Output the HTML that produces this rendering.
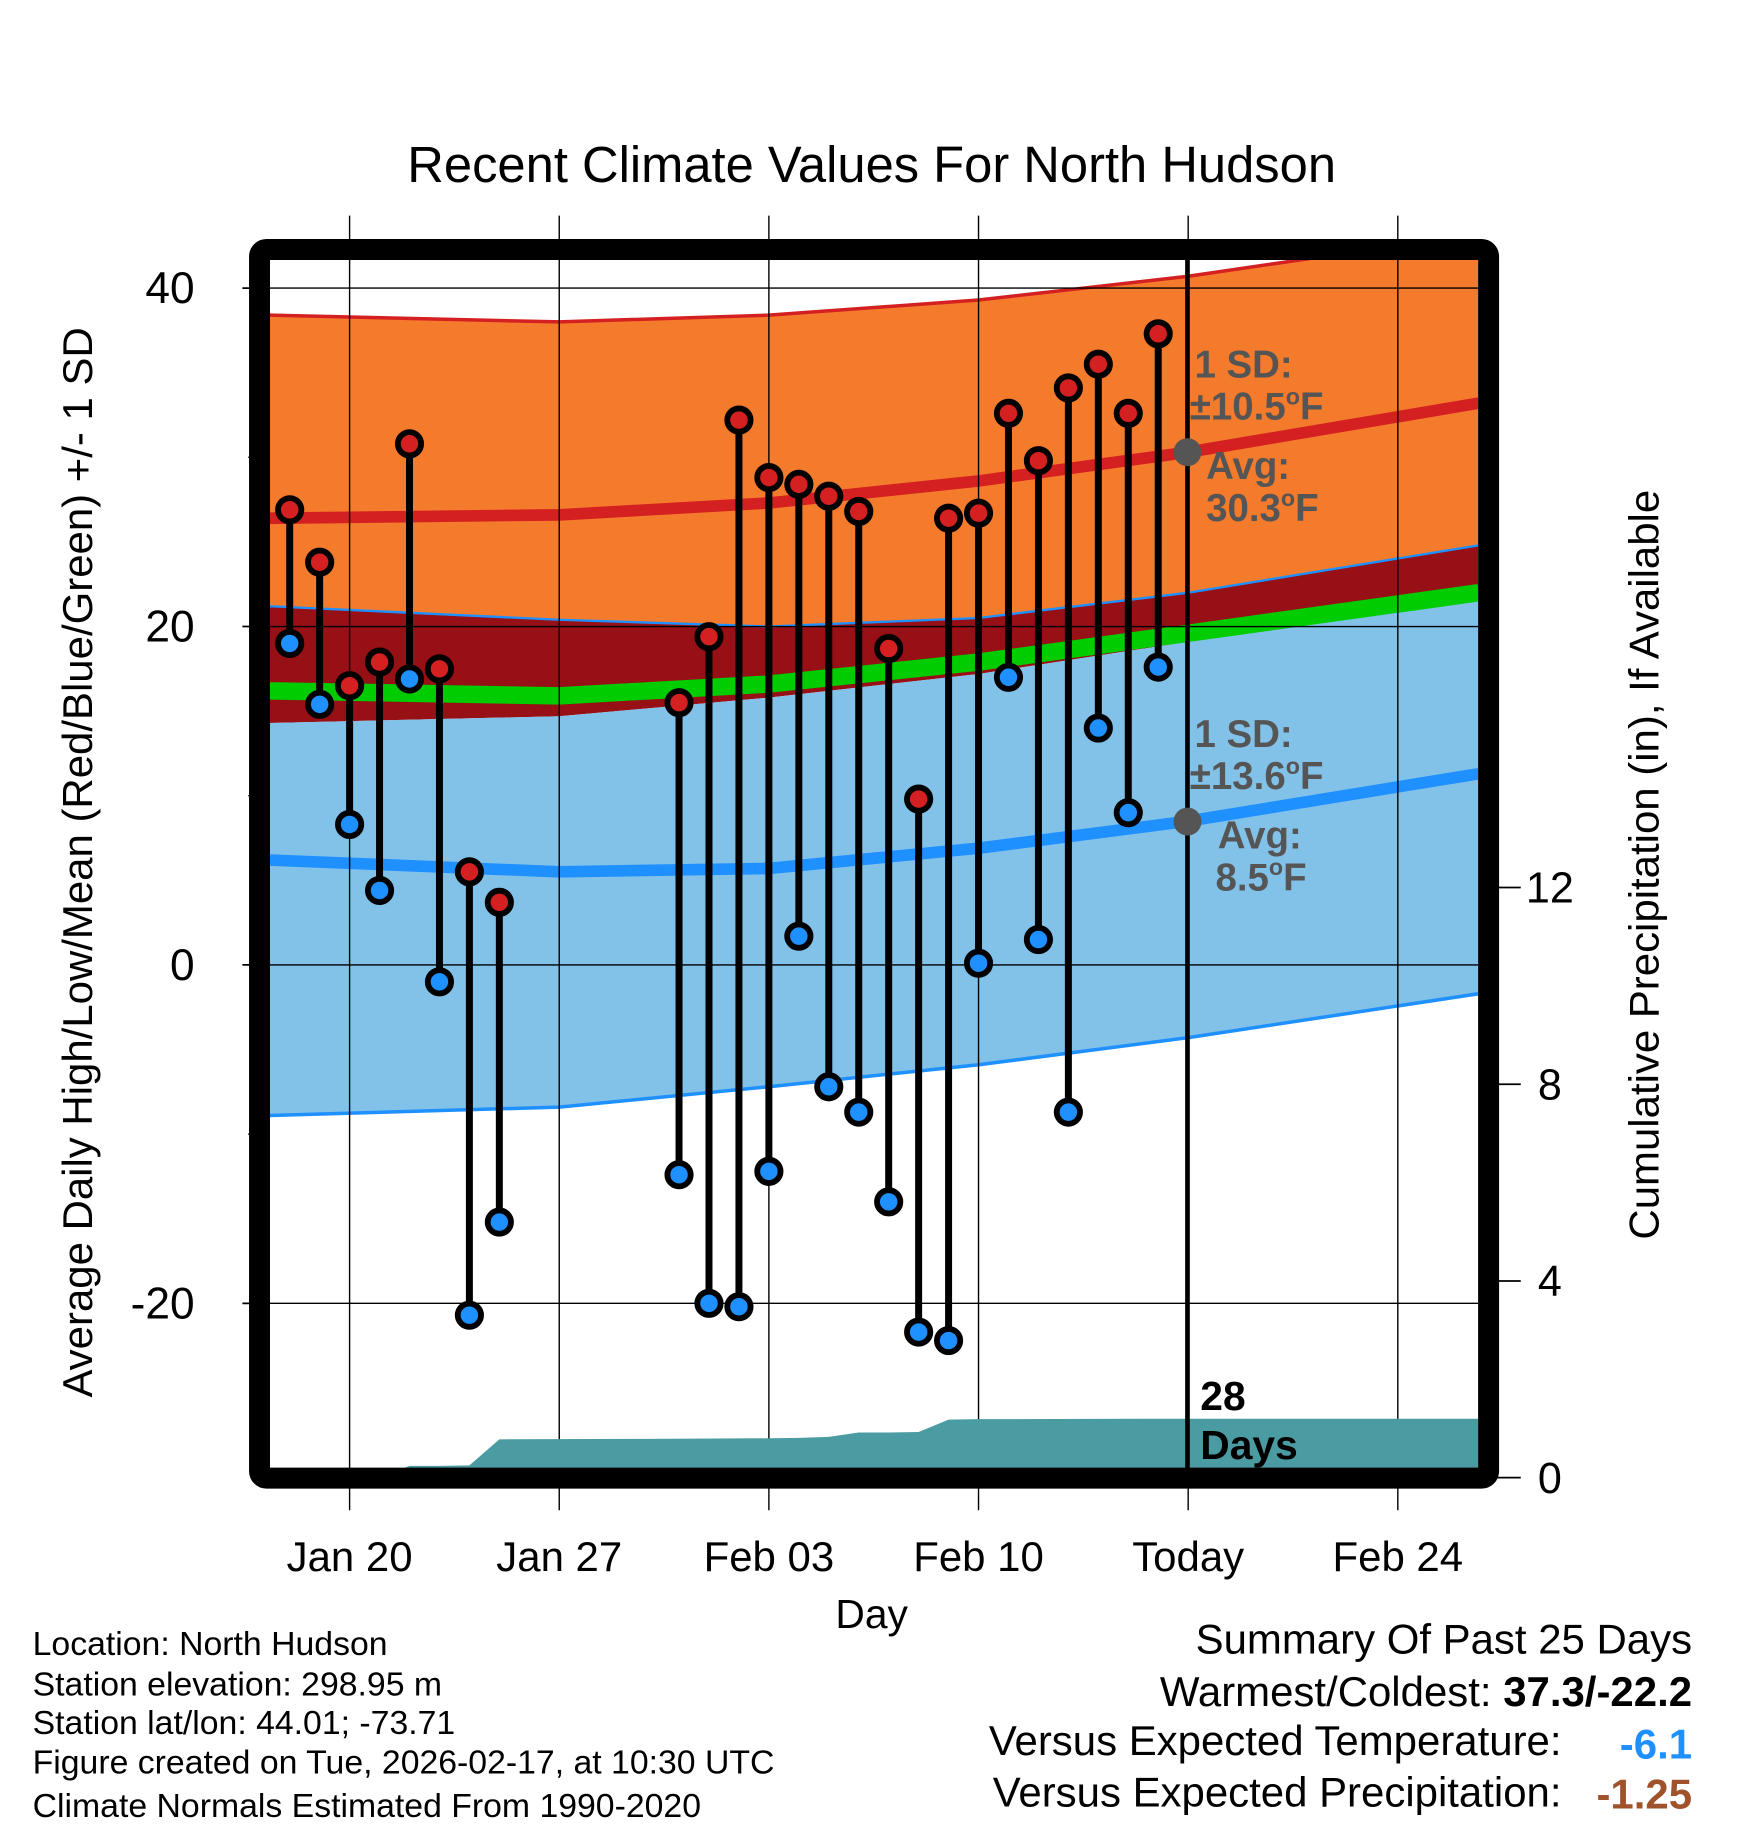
<!DOCTYPE html>
<html><head><meta charset="utf-8"><style>
html,body{margin:0;padding:0;background:#fff;}
svg{display:block;font-family:"Liberation Sans",Arial,sans-serif;}
</style></head><body>
<svg id="chart" width="1748" height="1828" viewBox="0 0 1500 1568.6" xmlns="http://www.w3.org/2000/svg">
<defs><clipPath id="plotclip"><rect x="231.7" y="223" width="1036.6" height="1037"/></clipPath></defs>
<text x="748" y="156" font-size="43.5" text-anchor="middle">Recent Climate Values For North Hudson</text>
<g id="bands" clip-path="url(#plotclip)"></g>
<g id="grid"></g>
<g id="precip" clip-path="url(#plotclip)"></g>
<g id="ann">
  <line x1="1019" y1="223" x2="1019" y2="1260" stroke="#000" stroke-width="4"/>
  <circle cx="1019" cy="388" r="12" fill="#555"/>
  <circle cx="1019" cy="705" r="12" fill="#555"/>
  <g font-weight="bold" font-size="33" fill="#555">
    <text x="1025" y="324">1 SD:</text>
    <text x="1021" y="360">±10.5<tspan font-size="20" dy="-13">o</tspan><tspan dy="13">F</tspan></text>
    <text x="1035" y="411">Avg:</text>
    <text x="1035" y="447">30.3<tspan font-size="20" dy="-13">o</tspan><tspan dy="13">F</tspan></text>
    <text x="1025" y="641">1 SD:</text>
    <text x="1021" y="677">±13.6<tspan font-size="20" dy="-13">o</tspan><tspan dy="13">F</tspan></text>
    <text x="1045" y="728">Avg:</text>
    <text x="1043" y="764">8.5<tspan font-size="20" dy="-13">o</tspan><tspan dy="13">F</tspan></text>
  </g>
  <text x="1030" y="1210" font-size="35" font-weight="bold">28</text>
  <text x="1030" y="1252" font-size="35" font-weight="bold">Days</text>
</g>
<g id="obs"></g>
<rect x="222.7" y="214.1" width="1054.7" height="1054.3" rx="6" fill="none" stroke="#000" stroke-width="18"/>
<g id="axes"></g>
<text x="748" y="1397" font-size="35" text-anchor="middle">Day</text>
<text transform="translate(79,740) rotate(-90)" font-size="36" text-anchor="middle">Average Daily High/Low/Mean (Red/Blue/Green) +/- 1 SD</text>
<text transform="translate(1423,742) rotate(-90)" font-size="36" text-anchor="middle">Cumulative Precipitation (in), If Available</text>
<g font-size="29">
  <text x="28" y="1420">Location: North Hudson</text>
  <text x="28" y="1455">Station elevation: 298.95 m</text>
  <text x="28" y="1488">Station lat/lon: 44.01; -73.71</text>
  <text x="28" y="1522">Figure created on Tue, 2026-02-17, at 10:30 UTC</text>
  <text x="28" y="1559">Climate Normals Estimated From 1990-2020</text>
</g>
<g font-size="36" text-anchor="end">
  <text x="1452" y="1419">Summary Of Past 25 Days</text>
  <text x="1452" y="1464">Warmest/Coldest: <tspan font-weight="bold">37.3/-22.2</tspan></text>
  <text x="1340" y="1506">Versus Expected Temperature:</text>
  <text x="1452" y="1509" font-weight="bold" fill="#1e90ff">-6.1</text>
  <text x="1340" y="1550">Versus Expected Precipitation:</text>
  <text x="1452" y="1552" font-weight="bold" fill="#a0522d">-1.25</text>
</g>
</svg>
<script>
// ---- data ----
const obsDays = [-2,-1,0,1,2,3,4,5,11,12,13,14,15,16,17,18,19,20,21,22,23,24,25,26,27];
const highs = [26.9,23.8,16.5,17.9,30.8,17.5,5.5,3.7,15.5,19.4,32.2,28.8,28.4,27.7,26.8,18.7,9.8,26.4,26.7,32.6,29.8,34.1,35.5,32.6,37.3];
const lows  = [19.0,15.4,8.3,4.4,16.9,-1.0,-20.7,-15.2,-12.4,-20.0,-20.2,-12.2,1.7,-7.2,-8.7,-14.0,-21.7,-22.2,0.1,17.0,1.5,-8.7,14.0,9.0,17.6];
const normDays = [-2.66,7,14,21,28,37.7];
const highUpper = [38.4,38.0,38.4,39.3,40.7,43.2];
const highAvg = [26.4,26.6,27.3,28.6,30.3,33.2];
const highLower = [21.2,20.4,20.0,20.5,22.0,24.8];
const meanAvg = [16.2,15.9,16.6,17.9,19.6,22.0];
const lowUpper = [14.3,14.7,15.8,17.2,19.1,21.6];
const lowAvg = [6.2,5.5,5.7,6.9,8.5,11.3];
const lowLower = [-8.9,-8.4,-7.2,-5.9,-4.3,-1.7];
const precipDays = [-2.66,-2,-1,0,1,2,3,4,5,10,14,15,16,17,18,19,20,21,28,37.7];
const precipVals = [0,0,0,0,0,0.24,0.24,0.25,0.78,0.79,0.8,0.81,0.83,0.92,0.92,0.93,1.18,1.19,1.2,1.2];
const yTicks = [40,20,0,-20];
const yMinor = [30,10,-10];
const pTicks = [0,4,8,12];
const xTickDays = [0,7,14,21,28,35];
const xTickLabels = ["Jan 20","Jan 27","Feb 03","Feb 10","Today","Feb 24"];
// ---- scales ----
const xs = d => 300 + d*25.7;
const ys = v => 828 - v*14.52;
const yp = p => 1268 - p*42.2;
const NS = "http://www.w3.org/2000/svg";
function mk(tag, attrs, parent){const e=document.createElementNS(NS,tag);for(const k in attrs)e.setAttribute(k,attrs[k]);parent.appendChild(e);return e;}
function pts(days, vals){return days.map((d,i)=>xs(d).toFixed(1)+","+ys(vals[i]).toFixed(1));}
function band(upper, lower, fill, name){
  const p = pts(normDays, upper).concat(pts(normDays, lower).reverse()).join(" ");
  const e = mk("polygon",{points:p,fill:fill},document.getElementById("bands"));
  
  
}
function line(vals, color, w, name){
  const e = mk("polyline",{points:pts(normDays, vals).join(" "),fill:"none",stroke:color,"stroke-width":w},document.getElementById("bands"));
  
  
}
band(highUpper, highLower, "#f47a2c", "high-sd-band");
band(highLower, lowUpper, "#961016", "overlap-band");
band(lowUpper, lowLower, "#82c1e8", "low-sd-band");
line(meanAvg, "#00cc00", 15, "mean-avg-line");
line(highUpper, "#d42020", 3, "high-upper-line");
line(highLower, "#1e90ff", 2, "high-lower-line");
line(highAvg, "#d42020", 10, "high-avg-line");
line(lowAvg, "#1e90ff", 10, "low-avg-line");
line(lowLower, "#1e90ff", 3, "low-lower-line");
// grid
const g = document.getElementById("grid");
yTicks.forEach(v=>{
  const e = mk("line",{x1:231.7,x2:1268.3,y1:ys(v),y2:ys(v),stroke:"#000","stroke-width":1.2},g);
  
  
});
xTickDays.forEach(d=>{
  const e = mk("line",{x1:xs(d),x2:xs(d),y1:185,y2:1296,stroke:"#000","stroke-width":1.2},g);
  
  
});
// precip
const pp = [xs(precipDays[0])+","+yp(0)].concat(precipDays.map((d,i)=>xs(d).toFixed(1)+","+yp(precipVals[i]).toFixed(1))).concat([xs(precipDays[precipDays.length-1])+","+yp(0)]);
const pa = mk("polygon",{points:pp.join(" "),fill:"#4a9ba2"},document.getElementById("precip"));


// observations
const ob = document.getElementById("obs");
highs.forEach((h,i)=>{
  const x = xs(obsDays[i]);
  const s = mk("line",{x1:x,x2:x,y1:ys(h),y2:ys(lows[i]),stroke:"#000","stroke-width":6},ob);
  
  
});
highs.forEach((h,i)=>{
  const x = xs(obsDays[i]);
  const c1 = mk("circle",{cx:x,cy:ys(h),r:10,fill:"#d42020",stroke:"#000","stroke-width":5},ob);
  
  
  const c2 = mk("circle",{cx:x,cy:ys(lows[i]),r:10,fill:"#1e90ff",stroke:"#000","stroke-width":5},ob);
  
  
});
// axes
const ax = document.getElementById("axes");
yTicks.forEach(v=>{
  const t = mk("line",{x1:208,x2:231,y1:ys(v),y2:ys(v),stroke:"#000","stroke-width":1.5},ax);
  
  
  const l = mk("text",{x:167,y:ys(v)+13,"font-size":38,"text-anchor":"end"},ax);
  l.textContent = String(v);
  
  
});
yMinor.forEach(v=>{
  const t = mk("line",{x1:213,x2:231,y1:ys(v),y2:ys(v),stroke:"#000","stroke-width":1.2},ax);
  
  
});
pTicks.forEach(p=>{
  const t = mk("line",{x1:1278,x2:1305,y1:yp(p),y2:yp(p),stroke:"#000","stroke-width":1.5},ax);
  
  
  const l = mk("text",{x:1330,y:yp(p)+13,"font-size":37,"text-anchor":"middle"},ax);
  l.textContent = String(p);
  
  
});
xTickDays.forEach((d,i)=>{
  const l = mk("text",{x:xs(d),y:1348,"font-size":36,"text-anchor":"middle"},ax);
  l.textContent = xTickLabels[i];
  
  
});
</script>
</body></html>
